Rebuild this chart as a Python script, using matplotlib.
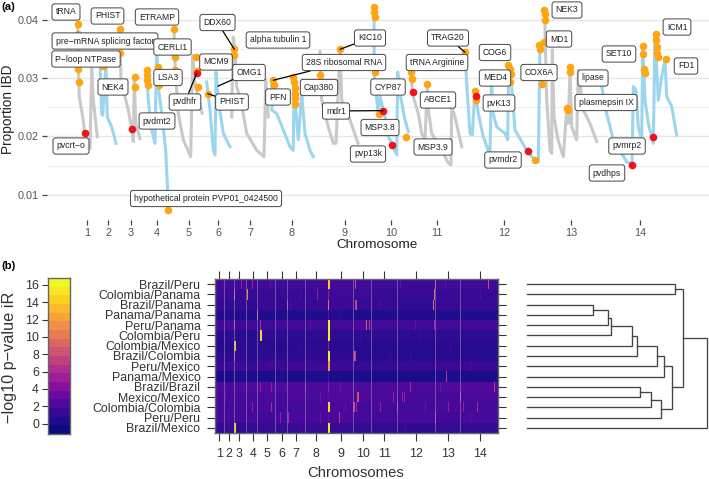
import numpy as np
import matplotlib
matplotlib.use("Agg")
import matplotlib.pyplot as plt
from matplotlib.colors import LinearSegmentedColormap, BoundaryNorm, Normalize
from matplotlib.transforms import Affine2D

W, H = 709, 479
plt.rcParams['font.family'] = ['Liberation Sans', 'DejaVu Sans']

# ---------- panel (a) data ----------
chrom_ticks = [87.3, 108.3, 130.7, 157, 189, 218.3, 250, 292, 345, 391.3, 436.7, 504, 571, 640]
chrom_names = [str(i) for i in range(1, 15)]

c1x = [77.7, 78.3, 79.3, 82.7, 85, 90, 91.7, 93.3, 97.3]
c1y = [.0393, .0319, .0268, .0233, .0205, .0179, .0316, .0262, .0199]
c2x = [100, 101.7, 102.7, 106, 107.3, 111.7, 116]
c2y = [.0325, .0239, .0236, .0322, .0233, .0216, .0188]
c3x = [120, 121, 125, 128.3, 131.7, 133.3, 134.3, 135.7, 140]
c3y = [.0382, .0285, .0268, .0245, .0213, .0191, .0299, .0222, .0196]
c4x = [146.7, 148.3, 151.7, 155, 156.7, 158.3, 161.7, 165.7, 167.7, 168]
c4y = [.0310, .0262, .0211, .0188, .0359, .0285, .0239, .0176, .0105, .0074]
c5x = [174, 175.3, 178.3, 183.3, 190.7, 192.7, 195, 199, 202]
c5y = [.0382, .0313, .0239, .0194, .0165, .0339, .0290, .0262, .0240]
c6x = [206.7, 210, 213.3, 215, 216, 218.3, 223.3, 230]
c6y = [.0293, .0245, .0176, .0168, .0310, .0262, .0205, .0182]
c7x = [231.7, 233.3, 235, 236.7, 240.7, 246.7, 256.7, 264, 265.7, 268.3]
c7y = [.0233, .0370, .0348, .0285, .0262, .0205, .0176, .0165, .0296, .0233]
c8x = [271.7, 271.9, 276.7, 283.3, 290, 293.3, 294, 295, 298.3, 301.7, 305, 310, 313.3]
c8y = [.0296, .0245, .0239, .0211, .0182, .0176, .0296, .0262, .0194, .0273, .0205, .0176, .0165]
c9x = [320, 321.7, 328.3, 333.3, 336, 340, 341.7, 350, 358]
c9y = [.0345, .0262, .0216, .0188, .0188, .0348, .0262, .0228, .0188]
c10x = [374, 374.3, 378.3, 380, 385, 386.7, 391.7, 396.7, 397.7, 400, 405, 408.3]
c10y = [.0422, .0302, .0239, .0268, .0233, .0205, .0188, .0168, .0310, .0273, .0228, .0208]
c11x = [410, 413.3, 418.3, 421.7, 425, 427.3, 428.3, 431.7, 440, 448.3, 451, 451.7, 455, 461.7]
c11y = [.0313, .0268, .0239, .0205, .0194, .0288, .0245, .0205, .0182, .0154, .0151, .0251, .0233, .0182]
c12x = [465, 466.7, 470, 472.3, 475, 478.3, 483.3, 488.3, 490, 491.7, 492.3, 496.7, 505, 507.7,
        508.7, 511.7, 515, 526.7, 535, 538.3, 540]
c12y = [.0342, .0290, .0205, .0202, .0279, .0239, .0199, .0176, .0174, .0313, .0245, .0216, .0205,
        .0194, .0322, .0285, .0211, .0176, .0159, .0156, .0359]
c13x = [545, 545.1, 546.7, 550, 551.7, 552.3, 554, 558, 563.3, 566.7, 568.3, 570, 571.7, 576.7, 578.3, 583.3, 590, 596.7]
c13y = [.0413, .0376, .0262, .0176, .0171, .0348, .0233, .0194, .0165, .0245, .0222, .0313, .0216, .0194, .0313, .0245, .0222, .0191]
c14x = [601.7, 606.7, 613.3, 626.7, 632, 633.3, 636, 638.3, 641.7, 642.7, 645, 648.3, 653.3, 655,
        658.3, 661.7, 665, 666.7, 671.7, 676.7]
c14y = [.0285, .0239, .0194, .0156, .0154, .0285, .0279, .0216, .0194, .0353, .0262, .0222, .0188,
        .0376, .0262, .0302, .0330, .0268, .0251, .0202]
chrom_traces = [(c1x, c1y), (c2x, c2y), (c3x, c3y), (c4x, c4y), (c5x, c5y), (c6x, c6y), (c7x, c7y),
                (c8x, c8y), (c9x, c9y), (c10x, c10y), (c11x, c11y), (c12x, c12y), (c13x, c13y), (c14x, c14y)]

orange_x = [77.7, 77.7, 78.3, 79, 120.3, 120.3, 102.7, 134.7, 135, 146.7, 147.3, 147.3, 148.3, 158.3, 159.3, 168,
            174, 175.3, 175.3, 196, 196.7, 198.3, 207.7, 234.3, 234.3, 273.3, 273.7, 293.3, 294, 294.7, 295,
            295, 295.3, 320, 340, 374, 374.3, 374.7, 375, 378.7, 406, 411.3, 412.3, 427, 465, 475, 476,
            508.3, 510, 511, 510, 535, 544.3, 544.7, 545, 539.3, 540, 544, 541.7, 570, 570.3, 566.7, 568.3,
            643, 643.3, 644.3, 644.7, 655.7, 656.3, 656.7, 657, 657.7, 666.3]
orange_y = [.0393, .0376, .0316, .0293, .0384, .0342, .0321, .0301, .0285, .0313, .0305, .0296, .0288, .0319, .0288, .0074,
            .0383, .0335, .0313, .0335, .0312, .0285, .0273, .0349, .0339, .0296, .0288, .0302, .0293, .0282, .0273,
            .0265, .0256, .0305, .0349, .0421, .0413, .0405, .0310, .0238, .0199, .0310, .0298, .0289, .0344, .0278, .0262,
            .0322, .0315, .0306, .0293, .0160, .0416, .0409, .0399, .0356, .0349, .0361, .0289, .0318, .0310, .0248, .0245,
            .0354, .0341, .0316, .0309, .0376, .0365, .0353, .0342, .0336, .0332]
red_x = [85.3, 131.7, 196.7, 383.3, 392.3, 413, 475.7, 528, 632, 652.7]
red_y = [.0206, .0213, .0308, .0244, .0185, .0276, .0269, .0174, .0151, .0198]

gene_names = ["tRNA", "PHIST", "ETRAMP", "pre−mRNA splicing factor", "P−loop NTPase", "CERLI1", "DDX60",
              "alpha tubulin 1", "MCM9", "OMG1", "28S ribosomal RNA", "KIC10", "NEK4", "LSA3", "pvdhfr", "PHIST",
              "PFN", "Cap380", "mdr1", "pvcrt−o", "pvdmt2", "hypothetical protein PVP01_0424500", "CYP87",
              "TRAG20", "tRNA Arginine", "COG6", "MED4", "pvK13", "ABCE1", "MSP3.8", "MSP3.9", "pvp13k", "pvmdr2",
              "NEK3", "MD1", "COX6A", "lipase", "plasmepsin IX", "SET10", "ICM1", "FD1", "pvmrp2", "pvdhps"]

# ---------- panel (b) data ----------
pair_names = ["Brazil/Peru", "Colombia/Panama", "Brazil/Panama", "Panama/Panama", "Peru/Panama", "Colombia/Peru",
              "Colombia/Mexico", "Brazil/Colombia", "Peru/Mexico", "Panama/Mexico", "Brazil/Brazil", "Mexico/Mexico",
              "Colombia/Colombia", "Peru/Peru", "Brazil/Mexico"]
heat_tick_pos = [219.3, 229.3, 239.3, 252.7, 267.3, 281.7, 295.7, 316, 341, 363.3, 384.3, 416, 448, 480.3]
chrom_edges = [215, 224, 234, 245.7, 257.3, 275.3, 287.3, 305.3, 328, 353.3, 371, 397, 435, 460, 498]
row_base = [
    [1.5, 1.4, 1.6, 1.3, 1.5, 1.4, 1.5, 1.4, 1.6, 1.5, 1.4, 1.3, 1.5, 1.4],
    [1.3, 1.2, 1.1, 1.0, 1.2, 1.1, 1.1, 1.2, 1.3, 1.3, 1.1, 1.1, 1.2, 1.1],
    [1.0, 0.9, 1.0, 0.8, 1.1, 0.9, 1.0, 1.1, 1.2, 1.1, 1.0, 0.9, 1.1, 1.0],
    [0.1, 0.3, 0.0, 0.0, 0.1, 0.1, 0.2, 0.1, 0.2, 0.0, 0.1, 0.2, 0.1, 0.1],
    [1.5, 1.5, 1.3, 1.4, 1.4, 1.5, 1.4, 1.4, 1.5, 1.8, 1.5, 1.4, 1.5, 1.4],
    [0.6, 0.6, 0.5, 0.4, 0.7, 0.7, 0.6, 0.8, 0.7, 0.6, 0.7, 0.6, 0.7, 0.6],
    [0.3, 0.4, 0.6, 0.4, 0.5, 0.4, 0.5, 0.5, 0.4, 0.4, 0.4, 0.3, 0.5, 0.4],
    [0.6, 0.5, 0.7, 0.5, 0.7, 0.6, 0.6, 0.7, 0.8, 0.4, 0.5, 0.4, 0.5, 0.4],
    [1.2, 1.3, 1.4, 1.1, 1.3, 1.1, 1.3, 1.3, 1.2, 1.1, 1.0, 1.1, 1.2, 1.1],
    [-0.3, -0.2, -0.1, -0.1, -0.2, -0.1, -0.2, -0.1, -0.2, -0.2, -0.2, -0.2, -0.1, -0.2],
    [1.9, 1.9, 2.0, 2.0, 2.1, 2.0, 1.9, 1.9, 2.1, 2.0, 1.9, 1.9, 2.0, 2.1],
    [1.7, 1.7, 1.8, 1.7, 1.8, 1.7, 1.8, 1.8, 2.0, 1.9, 1.8, 1.7, 1.7, 1.8],
    [1.6, 1.5, 1.6, 1.7, 1.8, 1.6, 1.6, 1.7, 1.8, 1.6, 1.7, 1.6, 1.8, 1.6],
    [1.7, 1.7, 1.6, 1.7, 1.6, 1.8, 1.7, 1.7, 1.8, 1.6, 1.6, 1.7, 1.6, 1.7],
    [0.9, 1.0, 0.8, 0.9, 1.1, 1.0, 1.0, 1.1, 1.0, 0.9, 0.9, 0.8, 1.0, 0.9],
]
hot_rows = [0, 1, 2, 3, 4, 5, 6, 7, 8, 9, 10, 11, 12, 13, 14,
            1, 4, 6, 7, 14, 1, 0, 3, 4, 5, 0, 2, 1, 2, 7, 12, 10, 10, 12, 13, 13, 10, 13, 11, 12, 12,
            0, 2, 7, 4, 4, 11, 12, 0, 1, 2, 0, 9, 10, 10, 11, 11, 11, 11, 12, 12, 12, 12, 12, 13, 4]
hot_pos = [328, 328, 328, 328, 328, 328, 328, 328, 328, 328, 328, 328, 328, 328, 328,
           234, 234, 234, 234, 234, 247, 241, 257, 260, 260, 252, 287, 317, 355, 355, 271, 271, 260, 252, 280, 288, 305, 339, 357, 353, 356,
           355, 356, 354, 366, 369, 358, 354, 488, 434, 433, 435, 446, 410, 494, 393, 402, 404, 460, 397, 380, 448, 463, 477, 435, 434]
hot_val = [14.5, 5, 10, 3, 16, 16, 5, 16, 12, 2.5, 5, 3, 15, 3, 16,
           9, 7, 14, 9, 15, 11, 5, 9, 6, 15, 5, 7, 5, 7, 7, 6, 5, 5, 5, 5, 6, 5, 7, 8, 6, 6,
           8, 8, 9, 9, 7, 8, 8, 8, 10, 10, 7, 7, 6, 7, 5, 5, 5, 7, 6, 5, 5, 5, 6, 7, 6]
weak_rows = [0, 0, 1, 2, 3, 4, 5, 6, 7, 8, 10, 10, 11, 11, 12, 12, 13, 13, 14, 14, 4, 2, 8, 0, 1, 5, 6, 7, 3, 9]
weak_pos = [270, 400, 300, 380, 340, 310, 420, 450, 390, 470, 340, 440, 225, 320, 345, 425, 320, 470, 300, 405, 415, 290, 270, 445, 480, 360, 300, 410, 240, 280]
weak_val = [3, 3, 2.5, 2.5, 1, 3, 1.5, 1.5, 1.5, 2.5, 3.5, 3.5, 3, 3.5, 3.5, 3.5, 3.5, 3, 2, 2, 3, 2.5, 2.5, 3, 2.5, 1.5, 1.5, 1.5, 1, 0.7]
bar_ticks = [0, 2, 4, 6, 8, 10, 12, 14, 16]
bar_levels = np.arange(-1.2, 17.3, 1.0)
heat_colors = ["#0b0b80", "#1f0c8c", "#3a0a96", "#5a08a0", "#7a0ca2", "#97189a", "#ab2b8c", "#bf4080",
               "#d05570", "#df6a60", "#ec8050", "#f59840", "#fab02e", "#fccb22", "#f8e620", "#f2f827"]

# dendrogram: merge heights (drawn through the axis scale)
dend_leaf_start = 527
m01 = 675; m23 = 593.3; m4 = 608; m5 = 611; m6 = 631.7; m7 = 637; m8 = 656.7; m9 = 663.7
m1011 = 640; m12 = 651; m13 = 660.7; mAB = 672; mTop = 682.7; mRoot = 707

# ---------- layout helper ----------
def ax_px(l, t, r, b, **kw):
    return fig.add_axes([l / W, 1 - b / H, (r - l) / W, (b - t) / H], **kw)

fig = plt.figure(figsize=(W / 100, H / 100), dpi=100)
pix = Affine2D().scale(1, -1).translate(0, H)

# ---------- panel (a) ----------
ax = ax_px(47, 0, 709, 220)
ax.set_xlim(47, 709)
ax.set_ylim(.04 - 200.5 / 5840, .04 + 19.5 / 5840)
for s in ax.spines.values():
    s.set_visible(False)
ax.set_yticks([.01, .02, .03, .04])
ax.set_yticklabels(["0.01", "0.02", "0.03", "0.04"])
ax.set_yticks([.015, .025, .035], minor=True)
ax.tick_params(axis='y', which='minor', length=0)
ax.grid(True, axis='y', which='major', color="#e6e6e6", lw=1.0)
ax.grid(True, axis='y', which='minor', color="#efefef", lw=0.7)
ax.set_axisbelow(True)
ax.set_xticks(chrom_ticks)
ax.set_xticklabels(chrom_names)
ax.tick_params(axis='both', which='major', labelsize=7.8, labelcolor="#555555", color="#444444",
               length=3.4, width=0.9, pad=2.5)
ax.tick_params(axis='x', pad=2)
for i, (xs, ys) in enumerate(chrom_traces):
    ax.plot(xs, ys, color="#c9c9c9" if i % 2 == 0 else "#9bd6ee", lw=2.2, solid_joinstyle='round', zorder=2)
ax.scatter(orange_x, orange_y, s=30, color="#ffa511", lw=0, zorder=3)
ax.scatter(red_x, red_y, s=30, color="#f4101c", lw=0, zorder=4)

label_px = [(66, 12), (107.5, 16), (157, 17), (105, 41), (86, 59), (172.5, 47), (217.5, 22.5), (278, 40),
            (216, 62), (249, 72.5), (344, 62.5), (370, 38), (113, 87), (168, 77.5), (185, 102), (232, 102),
            (278, 97), (319, 87.5), (336, 111), (71, 146), (157, 121), (206, 198.5), (388, 87), (448, 38),
            (437, 62.5), (495, 52.5), (495, 78), (499, 103), (438, 100), (380, 127.5), (433, 147), (368, 154),
            (503, 160), (567, 10), (559, 39), (539, 72.5), (593, 78), (606, 102.5), (619, 54), (677, 27),
            (686, 66), (627, 146), (607, 173)]
connect = {6: (234.3, .0349), 11: (340, .0349), 10: (273.3, .0296), 9: (218, .0286), 14: (196.7, .0308),
           18: (383.3, .0244), 23: (465, .0344), 15: (207.7, .0273)}
for i, (name, (px, py)) in enumerate(zip(gene_names, label_px)):
    bbox = dict(boxstyle="round,pad=0.42,rounding_size=0.3", fc="white", ec="#444444", lw=0.7)
    if i in connect:
        ax.annotate(name, xy=connect[i], xycoords='data', xytext=(px, py), textcoords=pix,
                    ha='center', va='center', fontsize=6.2, color="#222222", bbox=bbox, zorder=6,
                    arrowprops=dict(arrowstyle='-', color="black", lw=0.9, shrinkA=0, shrinkB=0), annotation_clip=False)
    else:
        ax.text(px, py, name, transform=pix, ha='center', va='center', fontsize=6.2, color="#222222",
                bbox=bbox, zorder=6)

fig.text(8 / W, 1 - 109.5 / H, "Proportion IBD", rotation=90, ha='center', va='center', fontsize=9.8, color="#222222")
fig.text(377.5 / W, 1 - 245 / H, "Chromosome", ha='center', va='center', fontsize=9.7, color="#222222")
fig.text(1 / W, 1 - 7 / H, "(a)", ha='left', va='center', fontsize=8.2, fontweight='bold')
fig.text(1 / W, 1 - 266 / H, "(b)", ha='left', va='center', fontsize=8.2, fontweight='bold')

# ---------- panel (b) heatmap ----------
cmap = LinearSegmentedColormap.from_list("bar", heat_colors, N=18)
cmap_smooth = LinearSegmentedColormap.from_list("bar_s", heat_colors, N=256)
norm = BoundaryNorm(bar_levels, cmap.N)
frame = "#666666"

hm = ax_px(215, 279, 498, 433)
hm.set_xlim(215, 498)
hm.set_ylim(14.5, -0.5)
grid_edges = np.arange(215, 499)
cols = (grid_edges[:-1] + grid_edges[1:]) / 2
Z = np.zeros((15, len(cols)))
for r in range(15):
    for c in range(14):
        Z[r, (cols >= chrom_edges[c]) & (cols < chrom_edges[c + 1])] = row_base[r][c]
for r, p, v in zip(weak_rows, weak_pos, weak_val):
    Z[r, int(p - 215)] = v
for r, p, v in zip(hot_rows, hot_pos, hot_val):
    Z[r, int(p - 215)] = v
    if v > 11:
        Z[r, int(p - 215) + 1] = v
hm.pcolormesh(grid_edges, np.arange(16) - 0.5, Z, cmap=cmap_smooth, norm=Normalize(-1.2, 16.8), shading='flat',
              antialiased=False, rasterized=True)
for e in chrom_edges[1:-1]:
    if e != 328:
        hm.axvline(e, color="#a59cc8", lw=0.7, alpha=0.5)
for s in hm.spines.values():
    s.set_color(frame)
    s.set_linewidth(1.0)
hm.set_yticks(range(15))
hm.set_yticklabels(pair_names)
hm.set_xticks(heat_tick_pos)
hm.set_xticklabels(chrom_names)
hm.tick_params(axis='both', labelsize=8.9, labelcolor="#333333", color="#333333", length=5.5, width=0.8, pad=5,
               top=True, right=True)
fig.text(356 / W, 1 - 473 / H, "Chromosomes", ha='center', va='center', fontsize=10.7, color="#333333")

# colour bar
cb = ax_px(48, 278, 70, 434)
cb.set_ylim(bar_levels[0], bar_levels[-1])
cb.set_xlim(0, 1)
cb.pcolormesh([0, 1], bar_levels, (bar_levels[:-1] + 0.5).reshape(-1, 1), cmap=cmap, norm=norm)
cb.set_xticks([])
cb.set_yticks(bar_ticks)
cb.tick_params(axis='y', labelsize=8.9, labelcolor="#333333", color="#333333", length=4, width=0.8, pad=2.5)
for s in cb.spines.values():
    s.set_color(frame)
    s.set_linewidth(1.0)
fig.text(10 / W, 1 - 357 / H, "−log10 p−value iR", rotation=90, ha='center', va='center', fontsize=11.7, color="#333333")

# dendrogram
dn = ax_px(520, 279, 709, 433)
dn.set_xlim(520, 709)
dn.set_ylim(14.5, -0.5)
dn.axis('off')
def link(xa, ya, xb, yb, h):
    dn.plot([xa, h, h, xb], [ya, ya, yb, yb], color="#444444", lw=0.95, solid_joinstyle='miter')
    return h, (ya + yb) / 2
s = dend_leaf_start
top = link(s, 0, s, 1, m01)
a = link(s, 2, s, 3, m23)
for r, h in zip([4, 5, 6, 7, 8, 9], [m4, m5, m6, m7, m8, m9]):
    a = link(a[0], a[1], s, r, h)
b = link(s, 10, s, 11, m1011)
for r, h in zip([12, 13], [m12, m13]):
    b = link(b[0], b[1], s, r, h)
ab = link(a[0], a[1], b[0], b[1], mAB)
t = link(top[0], top[1], ab[0], ab[1], mTop)
link(t[0], t[1], s, 14, mRoot)

fig.savefig("out.png", dpi=100)
